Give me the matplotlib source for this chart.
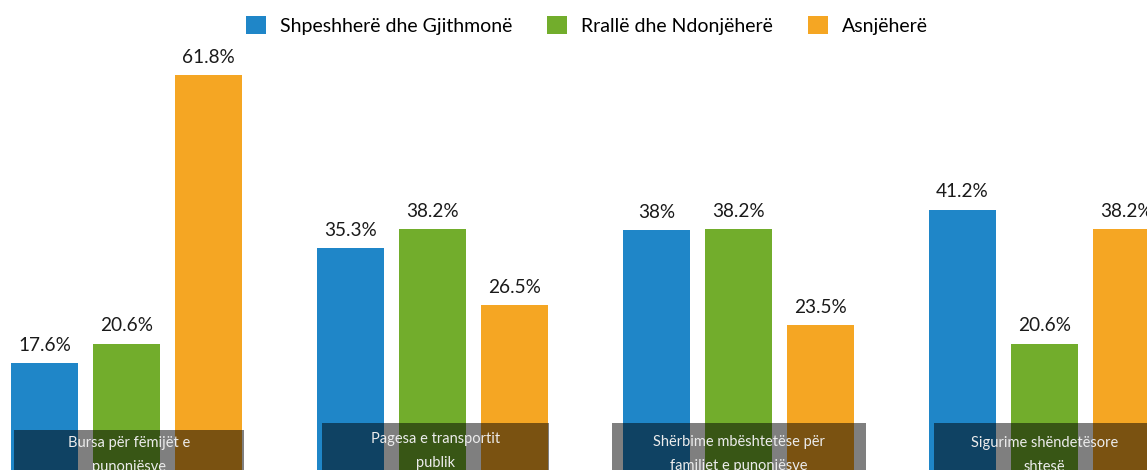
import matplotlib.pyplot as plt
import matplotlib.transforms as mtransforms
from matplotlib.patches import Rectangle
import numpy as np

plt.rcParams['font.family'] = ['Lato', 'DejaVu Sans']

# te dhenat
categories = ["Bursa për fëmijët e\npunonjësve",
              "Pagesa e transportit\npublik",
              "Shërbime mbështetëse për\nfamiljet e punonjësve",
              "Sigurime shëndetësore\nshtesë"]
series_names = ["Shpeshherë dhe Gjithmonë", "Rrallë dhe Ndonjëherë", "Asnjëherë"]
often = [17.6, 35.3, 38.0, 41.2]
rarely = [20.6, 38.2, 38.2, 20.6]
never = [61.8, 26.5, 23.5, 38.2]
labels_often = ["17.6%", "35.3%", "38%", "41.2%"]
labels_rarely = ["20.6%", "38.2%", "38.2%", "20.6%"]
labels_never = ["61.8%", "26.5%", "23.5%", "38.2%"]

colors = ["#1f86c8", "#72ad2c", "#f5a623"]

W, H = 1147, 470
fig = plt.figure(figsize=(W / 100, H / 100), dpi=100)
ax = fig.add_axes([0, 0, 1, 1])
ax.axis("off")

# pixel geometrija
group_px = 306.0
bar_w = 67 / group_px
pitch = 82 / group_px
px_per_pct = 6.516
zero_px = 478  # nga lart, pak poshte fundit te figures

x = np.arange(len(categories))
ax.set_xlim(-126.5 / group_px, (W - 126.5) / group_px)
ax.set_ylim((zero_px - H) / px_per_pct, zero_px / px_per_pct)

all_vals = [often, rarely, never]
all_labels = [labels_often, labels_rarely, labels_never]
for i, (vals, labs) in enumerate(zip(all_vals, all_labels)):
    xs = x + (i - 1) * pitch
    bars = ax.bar(xs, vals, width=bar_w, color=colors[i], label=series_names[i], zorder=2)
    for b, lab in zip(bars, labs):
        ax.annotate(lab, (b.get_x() + b.get_width() / 2, b.get_height()),
                    xytext=(0, 8.9), textcoords='offset points',
                    ha='center', va='baseline', fontsize=13.7, color='#1a1a1a',
                    annotation_clip=False)

# kutite e etiketave
trans = mtransforms.blended_transform_factory(ax.transData, fig.transFigure)
box_dx = [2.5, 3, 0.5, 0]
box_w = [230, 227, 254, 221]
box_top = [430, 423, 423, 423]
text_base = [449, 445, 448, 449]
line_px = 22  # largesia mes rreshtave
for i, cat in enumerate(categories):
    cx = x[i] + box_dx[i] / group_px
    wd = box_w[i] / group_px
    top = 1 - box_top[i] / H
    ax.add_patch(Rectangle((cx - wd / 2, 0), wd, top, transform=trans,
                           facecolor='black', alpha=0.5, edgecolor='none', zorder=3))
    # va='baseline' ne matplotlib rreshton rreshtin e fundit
    ax.text(cx, 1 - (text_base[i] + line_px) / H, cat, transform=trans, ha='center',
            va='baseline', fontsize=10.5, color='#ececec', linespacing=1.9, zorder=4)

handles, labs = ax.get_legend_handles_labels()
fig.legend(handles, labs, loc='center', bbox_to_anchor=(587 / W, 1 - 25.5 / H),
           ncol=3, frameon=False, fontsize=14, handlelength=1.03, handleheight=1.0,
           handletextpad=0.72, columnspacing=1.8)

plt.savefig('out.png', dpi=100)
